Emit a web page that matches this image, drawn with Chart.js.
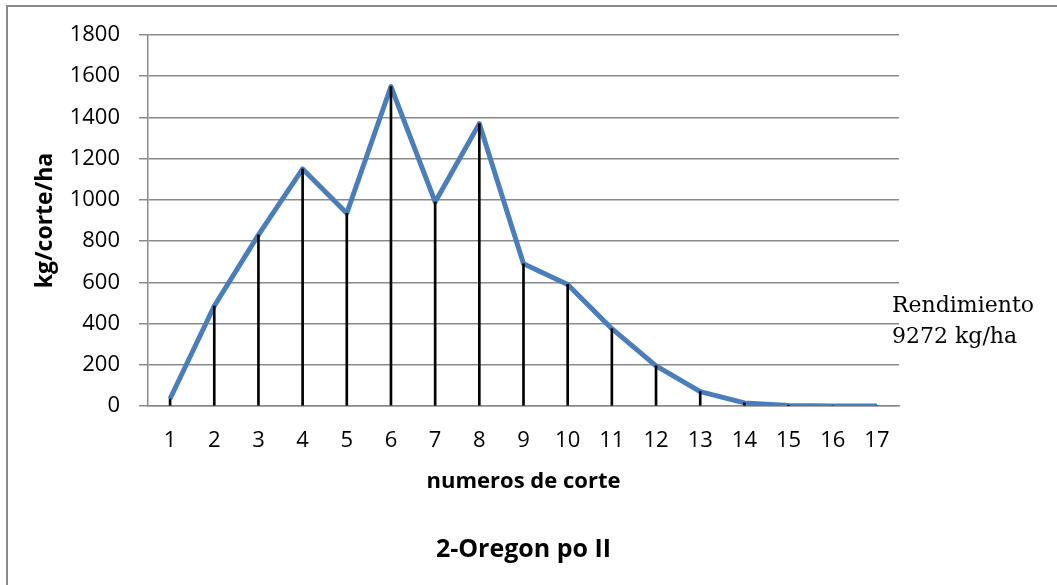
<!DOCTYPE html>
<html>
<head>
<meta charset="utf-8">
<title>2-Oregon po II</title>
<script src="https://cdn.jsdelivr.net/npm/chart.js@4.4.1/dist/chart.umd.min.js"></script>
<style>
  html, body { margin: 0; padding: 0; background: #ffffff; }
  #wrap { width: 1057px; height: 585px; position: relative; }
</style>
</head>
<body>
<div id="wrap"><canvas id="chart" width="1057" height="585"></canvas></div>
<script>
// Cuts 1..17 and yield per cut (kg/corte/ha)
const cortes = ['1','2','3','4','5','6','7','8','9','10','11','12','13','14','15','16','17'];
const rendimientoPorCorte = [35, 485, 830, 1150, 935, 1550, 990, 1370, 690, 590, 375, 195, 70, 15, 2, 0, 0];
const yTicks = [0, 200, 400, 600, 800, 1000, 1200, 1400, 1600, 1800];
const notaRendimiento = ['Rendimiento', '9272 kg/ha'];

const gridGray = '#8a8a8a';
const sansFont = "'Open Sans', 'Liberation Sans', sans-serif";

// frame around the whole chart and the yield note on the right
const extras = {
  id: 'extras',
  beforeDraw(chart) {
    const ctx = chart.ctx;
    ctx.save();
    ctx.fillStyle = '#ffffff';
    ctx.fillRect(0, 0, chart.width, chart.height);
    ctx.strokeStyle = gridGray;
    ctx.lineWidth = 2;
    ctx.strokeRect(7, 6, chart.width + 40, chart.height + 40);
    ctx.restore();
  },
  afterDraw(chart) {
    const ctx = chart.ctx;
    ctx.save();
    ctx.fillStyle = '#000000';
    ctx.font = "22px 'DejaVu Serif', 'Liberation Serif', serif";
    ctx.textAlign = 'left';
    ctx.textBaseline = 'alphabetic';
    const x = chart.chartArea.right - 7;
    ctx.fillText(notaRendimiento[0], x, 312);
    ctx.fillText(notaRendimiento[1], x, 343);
    ctx.restore();
  }
};

new Chart(document.getElementById('chart'), {
  data: {
    labels: cortes,
    datasets: [
      {
        type: 'line',
        data: rendimientoPorCorte,
        borderColor: '#4a7ebb',
        borderWidth: 5,
        tension: 0,
        pointRadius: 0,
        pointHoverRadius: 0,
        borderJoinStyle: 'round',
        borderCapStyle: 'butt',
        fill: false,
        order: 2
      },
      {
        // drop lines from each point down to the axis
        type: 'bar',
        data: rendimientoPorCorte,
        backgroundColor: '#000000',
        borderWidth: 0,
        barThickness: 2,
        order: 1
      }
    ]
  },
  options: {
    responsive: false,
    animation: false,
    events: [],
    layout: { padding: { left: 0, top: 35, right: 158, bottom: 0 } },
    plugins: {
      legend: { display: false },
      tooltip: { enabled: false },
      title: {
        display: true,
        position: 'bottom',
        fullSize: false,
        text: '2-Oregon po II',
        color: '#000000',
        font: { family: sansFont, size: 25, weight: 'bold', lineHeight: 1.2 },
        padding: { top: 0, bottom: 20 }
      }
    },
    scales: {
      x: {
        type: 'category',
        offset: true,
        grid: { display: false, drawTicks: false },
        border: { display: true, color: gridGray, width: 1.5 },
        ticks: {
          color: '#000000',
          padding: 22,
          maxRotation: 0,
          autoSkip: false,
          font: { family: sansFont, size: 22 }
        },
        title: {
          display: true,
          text: 'numeros de corte',
          color: '#000000',
          font: { family: sansFont, size: 22, weight: 'bold', lineHeight: 1.2 },
          padding: { top: 0, bottom: 39.8 }
        },
        afterFit(scale) { scale.height = 129; }
      },
      y: {
        min: 0,
        max: 1800,
        afterBuildTicks(scale) { scale.ticks = yTicks.map(v => ({ value: v })); },
        grid: {
          color: gridGray,
          lineWidth: 1.5,
          drawTicks: true,
          tickLength: 9,
          tickColor: gridGray
        },
        border: { display: true, color: gridGray, width: 1.5 },
        ticks: {
          color: '#000000',
          padding: 19,
          font: { family: sansFont, size: 22 },
          callback: (value) => String(value)
        },
        title: {
          display: true,
          text: 'kg/corte/ha',
          color: '#000000',
          font: { family: sansFont, size: 23, weight: 'bold', lineHeight: 1.2 },
          padding: { top: 32, bottom: 0 }
        },
        afterFit(scale) { scale.width = 148; }
      }
    }
  },
  plugins: [extras]
});
</script>
</body>
</html>
